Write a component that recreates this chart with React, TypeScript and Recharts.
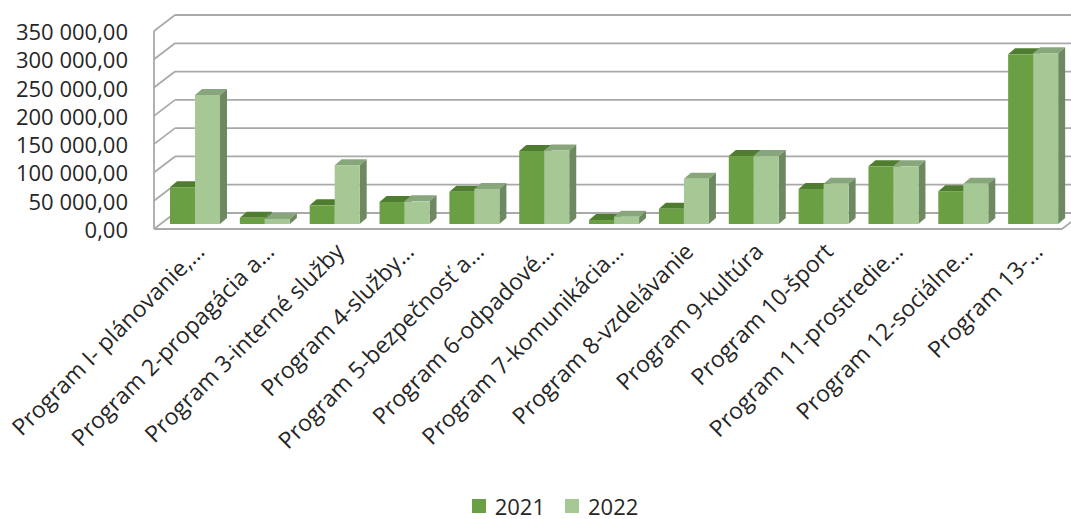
import React from "react";
import { BarChart, Bar, XAxis, YAxis, CartesianGrid, Legend } from "recharts";

const categories = [
  "Program I- plánovanie,…",
  "Program 2-propagácia a…",
  "Program 3-interné služby",
  "Program 4-služby…",
  "Program 5-bezpečnosť a…",
  "Program 6-odpadové…",
  "Program 7-komunikácia…",
  "Program 8-vzdelávanie",
  "Program 9-kultúra",
  "Program 10-šport",
  "Program 11-prostredie…",
  "Program 12-sociálne…",
  "Program 13-…",
];

const values2021 = [65000, 11000, 33000, 39000, 57000, 129000, 7000, 27000, 120000, 62000, 102000, 58000, 300000];
const values2022 = [228000, 9000, 104000, 40000, 62000, 130000, 13000, 80000, 120000, 71000, 102000, 71000, 302000];

const yTicks = [0, 50000, 100000, 150000, 200000, 250000, 300000, 350000];

const seriesNames = ["2021", "2022"];

const data = categories.map((name, i) => ({
  name,
  y2021: values2021[i],
  y2022: values2022[i],
}));

const FONT = "'Open Sans', sans-serif";
const TEXT = "#262626";
const GRID = "#a9a9a9";

// bar depth
const DX = 7;
const DY = 6;
// wall edges relative to the plane the bars stand in
const FRONT_DX = -6;
const FRONT_DY = 5;
const BACK_DX = 15;
const BACK_DY = -11;
const PLOT_TOP = 26;
const PLOT_BOTTOM = 224;

const COLORS = {
  y2021: { front: "#6a9f44", top: "#4f7d30", side: "#4b6e33" },
  y2022: { front: "#a6c894", top: "#88a67b", side: "#6e8962" },
};

function fmt(v: number) {
  const s = Math.round(v).toString().replace(/\B(?=(\d{3})+(?!\d))/g, " ");
  return s + ",00";
}

const make3D = (c: { front: string; top: string; side: string }) => (props: any) => {
  const { x, y, width, height } = props;
  if (x == null || y == null || !width) return <g />;
  const h = Math.max(height || 0, 0);
  return (
    <g>
      <polygon
        points={`${x},${y} ${x + DX},${y - DY} ${x + width + DX},${y - DY} ${x + width},${y}`}
        fill={c.top}
      />
      <polygon
        points={`${x + width},${y} ${x + width + DX},${y - DY} ${x + width + DX},${y + h - DY} ${x + width},${y + h}`}
        fill={c.side}
      />
      <rect x={x} y={y} width={width} height={h} fill={c.front} />
    </g>
  );
};

const renderGridLine = (props: any) => {
  const { x1, x2, y1, index } = props;
  const isFloor = Math.abs(y1 - PLOT_BOTTOM) < 0.5;
  const line = { stroke: GRID, strokeWidth: 1.8 };
  return (
    <g key={`grid-${index}`}>
      <line x1={x1 + BACK_DX} y1={y1 + BACK_DY} x2={x2 + BACK_DX + 20} y2={y1 + BACK_DY} {...line} />
      <line x1={x1 + FRONT_DX} y1={y1 + FRONT_DY} x2={x1 + BACK_DX} y2={y1 + BACK_DY} {...line} />
      {isFloor && (
        <>
          <line x1={x1 + FRONT_DX} y1={y1 + FRONT_DY} x2={x2 + FRONT_DX} y2={y1 + FRONT_DY} {...line} />
          <line x1={x2 + FRONT_DX} y1={y1 + FRONT_DY} x2={x2 + BACK_DX} y2={y1 + BACK_DY} {...line} />
          <line x1={x1 + FRONT_DX} y1={PLOT_TOP + FRONT_DY} x2={x1 + FRONT_DX} y2={y1 + FRONT_DY} {...line} />
        </>
      )}
    </g>
  );
};

const YTick = ({ y, payload }: any) => (
  <text x={128} y={y + 5} textAnchor="end" dominantBaseline="central" fontFamily={FONT} fontSize={22} fill={TEXT}>
    {fmt(payload.value)}
  </text>
);

const XTick = ({ x, payload }: any) => {
  const ax = x + 11;
  const ay = 253;
  return (
    <text x={ax} y={ay} transform={`rotate(-45, ${ax}, ${ay})`} textAnchor="end" fontFamily={FONT} fontSize={23} fill={TEXT}>
      {payload.value}
    </text>
  );
};

const renderLegend = () => (
  <div
    style={{
      display: "flex",
      justifyContent: "center",
      alignItems: "center",
      height: 26,
      paddingLeft: 42,
      fontFamily: FONT,
      fontSize: 22,
      lineHeight: "26px",
      color: TEXT,
    }}
  >
    {seriesNames.map((n, i) => (
      <span key={n} style={{ display: "flex", alignItems: "center", marginRight: i === 0 ? 20 : 0 }}>
        <span
          style={{
            display: "inline-block",
            width: 14,
            height: 14,
            marginRight: 9,
            background: i === 0 ? COLORS.y2021.front : COLORS.y2022.front,
          }}
        />
        {n}
      </span>
    ))}
  </div>
);

export default function App() {
  return (
    <div style={{ width: 1071, height: 519, background: "#fff" }}>
      <style>{"body{margin:0}"}</style>
      <BarChart
        width={1071}
        height={519}
        data={data}
        margin={{ top: PLOT_TOP, right: 3, bottom: 0, left: 0 }}
        barGap={0}
        barSize={25}
      >
        <CartesianGrid vertical={false} horizontal={renderGridLine} />
        <XAxis dataKey="name" axisLine={false} tickLine={false} interval={0} height={269} tick={XTick} />
        <YAxis
          domain={[0, 350000]}
          ticks={yTicks}
          axisLine={false}
          tickLine={false}
          width={160}
          tick={YTick}
        />
        <Legend verticalAlign="bottom" content={renderLegend} />
        <Bar dataKey="y2021" name="2021" fill={COLORS.y2021.front} shape={make3D(COLORS.y2021)} isAnimationActive={false} />
        <Bar dataKey="y2022" name="2022" fill={COLORS.y2022.front} shape={make3D(COLORS.y2022)} isAnimationActive={false} />
      </BarChart>
    </div>
  );
}
